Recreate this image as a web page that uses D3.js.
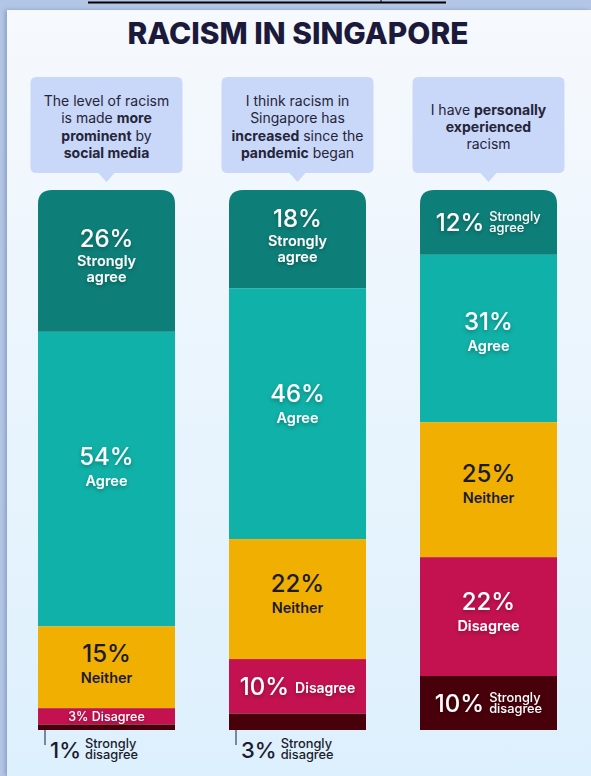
<!DOCTYPE html>
<html><head><meta charset="utf-8">
<script src="https://cdn.jsdelivr.net/npm/d3@7"></script>
<style>
html,body{margin:0;padding:0;background:#b3c6e6;}
svg{display:block;}
</style></head>
<body>
<svg id="chart" width="591" height="776"></svg>
<script>
const title = "RACISM IN SINGAPORE";
const categories = ["Strongly agree", "Agree", "Neither", "Disagree", "Strongly disagree"];
const questions = [
  [[["The level of racism", false]], [["is made ", false], ["more", true]], [["prominent", true], [" by", false]], [["social media", true]]],
  [[["I think racism in", false]], [["Singapore has", false]], [["increased", true], [" since the", false]], [["pandemic", true], [" began", false]]],
  [[["I have ", false], ["personally", true]], [["experienced", true]], [["racism", false]]]
];
const values = [
  [26, 54, 15, 3, 1],
  [18, 46, 22, 10, 3],
  [12, 31, 25, 22, 10]
];
const colors = ["#0d7f78", "#10b1a8", "#f1b001", "#c3124f", "#48000a"];
const textColors = ["#ffffff", "#ffffff", "#1b1b2c", "#ffffff", "#ffffff"];

const W = 591, H = 776;
const svg = d3.select("#chart");
const defs = svg.append("defs");
const bg = defs.append("linearGradient").attr("id", "bg").attr("x1", 0).attr("y1", 0).attr("x2", 0).attr("y2", 1);
bg.append("stop").attr("offset", 0).attr("stop-color", "#f6f9fd");
bg.append("stop").attr("offset", 1).attr("stop-color", "#ddf0fd");
const sh = defs.append("filter").attr("id", "ts").attr("x", "-20%").attr("y", "-30%").attr("width", "140%").attr("height", "170%");
sh.append("feDropShadow").attr("dx", 0).attr("dy", 2).attr("stdDeviation", 2).attr("flood-color", "#000").attr("flood-opacity", 0.3);
const cs = defs.append("filter").attr("id", "cs").attr("x", "-5%").attr("y", "-5%").attr("width", "110%").attr("height", "110%");
cs.append("feDropShadow").attr("dx", -2).attr("dy", 0).attr("stdDeviation", 2).attr("flood-color", "#5a6f95").attr("flood-opacity", 0.45);

// outer frame + card
svg.append("rect").attr("width", W).attr("height", H).attr("fill", "#b3c6e6");
svg.append("line").attr("x1", 88).attr("x2", 446).attr("y1", 2.5).attr("y2", 2.5).attr("stroke", "#000").attr("stroke-width", 2);
svg.append("line").attr("x1", 381).attr("x2", 381).attr("y1", 0).attr("y2", 3).attr("stroke", "#000").attr("stroke-width", 1);
svg.append("rect").attr("x", 7).attr("y", 10).attr("width", W - 7).attr("height", H - 10).attr("fill", "url(#bg)").attr("filter", "url(#cs)");

// title
const tt = svg.append("text").attr("x", 298).attr("y", 44).attr("text-anchor", "middle")
  .attr("font-family", "Inter").attr("font-weight", 800).attr("font-size", 27).attr("fill", "#1c1a3a").text(title);
const tw = tt.node().getComputedTextLength();
if (Math.abs(tw - 341) > 4) tt.attr("font-size", 27 * 341 / tw);

const x = d3.scaleBand().domain(d3.range(values.length)).range([38, 557]).paddingInner(0.2827).paddingOuter(0);
const bw = x.bandwidth();
const barTop = 190, barBottom = 730, r = 14;

// callouts
questions.forEach((lines, i) => {
  const bx = x(i) - 7.5, bwid = bw + 15, by = 77, bh = 96, cx = x(i) + bw / 2;
  const g = svg.append("g");
  g.append("path").attr("fill", "#c9d7f8").attr("d",
    `M${bx + 6},${by} H${bx + bwid - 6} Q${bx + bwid},${by} ${bx + bwid},${by + 6} V${by + bh - 6} Q${bx + bwid},${by + bh} ${bx + bwid - 6},${by + bh}
     H${cx + 8} L${cx},${by + bh + 9} L${cx - 8},${by + bh} H${bx + 6} Q${bx},${by + bh} ${bx},${by + bh - 6} V${by + 6} Q${bx},${by} ${bx + 6},${by} Z`);
  const lh = 17.3;
  const y0 = by + bh / 2 - (lines.length - 1) * lh / 2 + 7;
  lines.forEach((parts, li) => {
    const t = g.append("text").attr("x", cx).attr("y", y0 + li * lh).attr("text-anchor", "middle")
      .attr("font-family", "Inter").attr("font-size", 14).attr("fill", "#25253a");
    parts.forEach(([s, b]) => t.append("tspan").attr("font-weight", b ? 700 : 400).text(s));
  });
});

// two-line small label as one text element
function stackedSmall(parent, xx, yTop, gap, size, weight, w1, w2) {
  const t = parent.append("text").attr("font-size", size).attr("font-weight", weight);
  t.append("tspan").attr("x", xx).attr("y", yTop).text(w1);
  t.append("tspan").attr("x", xx).attr("y", yTop + gap).text(w2);
  return t;
}

// bars
values.forEach((vals, i) => {
  const total = d3.sum(vals);
  const y = d3.scaleLinear().domain([0, total]).range([barTop, barBottom]);
  const x0 = x(i), cx = x0 + bw / 2;
  const clipId = "clip" + i;
  defs.append("clipPath").attr("id", clipId).append("path").attr("d",
    `M${x0},${barBottom} V${barTop + r} Q${x0},${barTop} ${x0 + r},${barTop} H${x0 + bw - r} Q${x0 + bw},${barTop} ${x0 + bw},${barTop + r} V${barBottom} Z`);
  const g = svg.append("g");
  const bars = g.append("g").attr("clip-path", `url(#${clipId})`);
  let cum = 0;
  const segs = vals.map((v, k) => { const s = { v, k, y0: y(cum), y1: y(cum + v) }; cum += v; return s; });
  bars.selectAll("rect").data(segs).join("rect")
    .attr("x", x0).attr("width", bw)
    .attr("y", d => d.y0).attr("height", d => d.y1 - d.y0)
    .attr("fill", d => colors[d.k]);

  segs.forEach((s, idx) => {
    const h = s.y1 - s.y0;
    const col = textColors[s.k];
    const filt = col === "#ffffff" ? "url(#ts)" : null;
    const words = categories[s.k].split(" ");
    const pct = s.v + "%";
    const isLast = idx === segs.length - 1;
    if (h >= 75) {
      const c = s.y0 + h * 0.46;
      const lg = g.append("g").attr("fill", col).attr("filter", filt).attr("font-family", "Inter").attr("text-anchor", "middle");
      if (words.length > 1) {
        lg.append("text").attr("x", cx).attr("y", c - 8).attr("font-size", 24).attr("font-weight", 500).text(pct);
        stackedSmall(lg, cx, c + 11, 15.5, 14.5, 600, words[0], words[1].toLowerCase());
      } else {
        lg.append("text").attr("x", cx).attr("y", c - 2).attr("font-size", 24).attr("font-weight", 500).text(pct);
        lg.append("text").attr("x", cx).attr("y", c + 19).attr("font-size", 14.5).attr("font-weight", 600).text(categories[s.k]);
      }
    } else if (h >= 30) {
      const c = (s.y0 + s.y1) / 2;
      const lg = g.append("g").attr("fill", col).attr("filter", filt).attr("font-family", "Inter");
      const pt = lg.append("text").attr("x", 0).attr("y", c + 9).attr("font-size", 24).attr("font-weight", 500).text(pct);
      const pw = pt.node().getComputedTextLength();
      let lw;
      if (words.length > 1) {
        const t = stackedSmall(lg, pw + 5, c - 1.5, 11.5, 12.8, 500, words[0], words[1].toLowerCase());
        lw = t.node().getBBox().width;
      } else {
        const a = lg.append("text").attr("x", pw + 6).attr("y", c + 7).attr("font-size", 14).attr("font-weight", 600).text(categories[s.k]);
        lw = a.node().getComputedTextLength() + 1;
      }
      const gw = pw + 5 + lw;
      lg.attr("transform", `translate(${cx - gw / 2},0)`);
    } else if (h >= 12 && !isLast) {
      g.append("text").attr("x", cx).attr("y", (s.y0 + s.y1) / 2 + 4.5).attr("text-anchor", "middle")
        .attr("font-family", "Inter").attr("font-size", 12.5).attr("font-weight", 500).attr("fill", col)
        .attr("filter", filt).text(pct + " " + categories[s.k]);
    } else {
      const tx = x0 + 7;
      g.append("line").attr("x1", tx).attr("x2", tx).attr("y1", barBottom).attr("y2", barBottom + 15)
        .attr("stroke", "#3a3f5c").attr("stroke-width", 1.2);
      const lg = g.append("g").attr("fill", "#1b1b2c").attr("font-family", "Inter");
      const pt = lg.append("text").attr("x", tx + 5).attr("y", barBottom + 28).attr("font-size", 22).attr("font-weight", 500).text(pct);
      const pw = pt.node().getComputedTextLength();
      stackedSmall(lg, tx + 5 + pw + 4, barBottom + 17.5, 11, 12.8, 500, words[0], words.slice(1).join(" ").toLowerCase());
    }
  });
});
</script>
</body></html>
